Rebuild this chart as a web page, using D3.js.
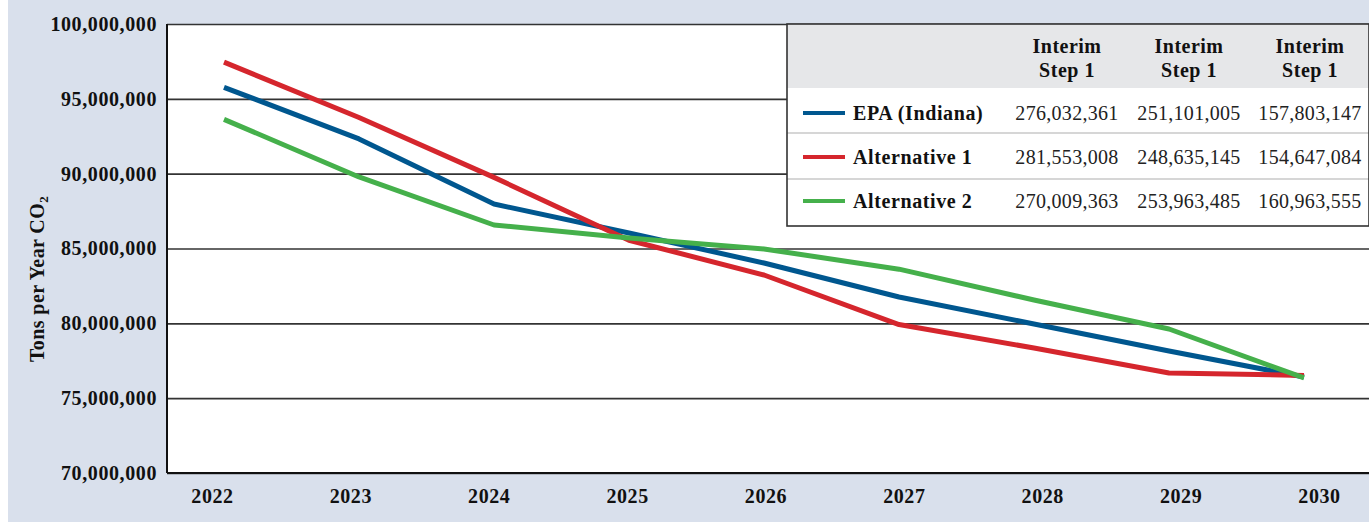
<!DOCTYPE html>
<html>
<head>
<meta charset="utf-8">
<script src="https://cdn.jsdelivr.net/npm/d3@7"></script>
<style>
  body { margin: 0; background: #fff; }
  svg { display: block; font-family: "Liberation Serif", "DejaVu Serif", serif; }
</style>
</head>
<body>
<div id="chart"></div>
<script>
// data
var years = ["2022", "2023", "2024", "2025", "2026", "2027", "2028", "2029", "2030"];
var epa  = [95.77, 92.32, 87.97, 86.04, 84.03, 81.76, 79.96, 78.15, 76.41];
var alt1 = [97.45, 93.75, 89.75, 85.55, 83.23, 79.92, 78.35, 76.68, 76.52];
var alt2 = [93.63, 89.78, 86.57, 85.70, 84.97, 83.62, 81.56, 79.62, 76.35];
var yTicks = [70, 75, 80, 85, 90, 95, 100];

var seriesNames = ["EPA (Indiana)", "Alternative 1", "Alternative 2"];
var seriesColors = ["#00578f", "#d5262d", "#45b04b"];
var tableHeaders = ["Interim Step 1", "Interim Step 1", "Interim Step 1"];
var tableEpa  = ["276,032,361", "251,101,005", "157,803,147"];
var tableAlt1 = ["281,553,008", "248,635,145", "154,647,084"];
var tableAlt2 = ["270,009,363", "253,963,485", "160,963,555"];

var series = [epa, alt1, alt2];
var tableRows = [tableEpa, tableAlt1, tableAlt2];

var W = 1369, H = 525;
var margin = { left: 167, right: 0, top: 24, bottom: 52 };
var width = W - margin.left - margin.right;
var height = H - margin.top - margin.bottom;

var svg = d3.select("#chart").append("svg")
    .attr("width", W)
    .attr("height", H);

// blue-grey backdrop
svg.append("rect")
    .attr("x", 8).attr("y", 0)
    .attr("width", W - 8).attr("height", 522)
    .attr("fill", "#d9e0ec");

var g = svg.append("g")
    .attr("transform", "translate(" + margin.left + "," + margin.top + ")");

g.append("rect")
    .attr("width", width).attr("height", height)
    .attr("fill", "#fff");

var y = d3.scaleLinear().domain([70, 100]).range([height, 0]);
// line points sit a bit inside the year labels, as in the original
var x = d3.scalePoint().domain(years).range([224 - margin.left, 1304 - margin.left]);
var xLab = d3.scalePoint().domain(years).range([212 - margin.left, 1319 - margin.left]);

// gridlines
var grid = g.append("g")
    .call(d3.axisLeft(y).tickValues(yTicks).tickSize(-width).tickFormat(""));
grid.select(".domain").remove();
grid.selectAll("line")
    .attr("stroke", "#333")
    .attr("stroke-width", 1.6);

// y labels
var yAxis = g.append("g")
    .call(d3.axisLeft(y).tickValues(yTicks).tickSize(0).tickPadding(10)
        .tickFormat(function(d) { return d3.format(",")(d * 1e6); }));
yAxis.select(".domain").remove();
yAxis.selectAll("text")
    .attr("font-family", "Liberation Serif")
    .attr("font-size", 20)
    .attr("font-weight", "bold")
    .attr("letter-spacing", 0.6)
    .attr("fill", "#111");

// x labels
var xAxis = g.append("g")
    .attr("transform", "translate(0," + height + ")")
    .call(d3.axisBottom(xLab).tickSize(0).tickPadding(16));
xAxis.select(".domain").remove();
xAxis.selectAll("text")
    .attr("font-family", "Liberation Serif")
    .attr("font-size", 20)
    .attr("font-weight", "bold")
    .attr("letter-spacing", 0.6)
    .attr("fill", "#111");

// frame: left and bottom
g.append("line").attr("x1", 0).attr("x2", 0).attr("y1", 0).attr("y2", height)
    .attr("stroke", "#111").attr("stroke-width", 2);
g.append("line").attr("x1", 0).attr("x2", width).attr("y1", height).attr("y2", height)
    .attr("stroke", "#111").attr("stroke-width", 2);

// y title
svg.append("text")
    .attr("transform", "translate(44,279) rotate(-90)")
    .attr("text-anchor", "middle")
    .attr("font-size", 20)
    .attr("font-weight", "bold")
    .attr("letter-spacing", 0.4)
    .attr("fill", "#111")
    .text("Tons per Year CO")
    .append("tspan")
    .attr("font-size", 13)
    .attr("dy", 4)
    .text("2");

// lines
var line = d3.line()
    .x(function(d, i) { return x(years[i]); })
    .y(function(d) { return y(d); });

g.selectAll(".series")
    .data(series)
    .enter().append("path")
    .attr("class", "series")
    .attr("fill", "none")
    .attr("stroke", function(d, i) { return seriesColors[i]; })
    .attr("stroke-width", 5)
    .attr("stroke-linejoin", "round")
    .attr("d", line);

// legend table
var tb = svg.append("g").attr("transform", "translate(787,24)");
var tbW = W - 787, tbH = 202;
tb.append("rect").attr("width", tbW).attr("height", tbH).attr("fill", "#fff");
tb.append("rect").attr("width", tbW).attr("height", 64).attr("fill", "#e6e7e9");

var colX = [280, 402, 523];
tableHeaders.forEach(function(h, i) {
    var words = h.split(" ");
    var t = tb.append("text")
        .attr("x", colX[i]).attr("y", 29)
        .attr("text-anchor", "middle")
        .attr("font-size", 20)
        .attr("font-weight", "bold")
        .attr("letter-spacing", 0.5)
        .attr("fill", "#111");
    t.append("tspan").attr("x", colX[i]).text(words[0]);
    t.append("tspan").attr("x", colX[i]).attr("dy", 24).text(words.slice(1).join(" "));
});

var rowY = [89, 133, 177];
[109, 155].forEach(function(ly) {
    tb.append("line").attr("x1", 0).attr("x2", tbW).attr("y1", ly).attr("y2", ly)
        .attr("stroke", "#c8c8c8").attr("stroke-width", 1.5);
});

seriesNames.forEach(function(name, i) {
    var cy = rowY[i];
    tb.append("line")
        .attr("x1", 16).attr("x2", 58).attr("y1", cy).attr("y2", cy)
        .attr("stroke", seriesColors[i]).attr("stroke-width", 4);
    tb.append("text")
        .attr("x", 66).attr("y", cy + 7)
        .attr("font-size", 20)
        .attr("font-weight", "bold")
        .attr("letter-spacing", 0.6)
        .attr("fill", "#111")
        .text(name);
    tableRows[i].forEach(function(v, j) {
        tb.append("text")
            .attr("x", colX[j]).attr("y", cy + 7)
            .attr("text-anchor", "middle")
            .attr("font-size", 20)
            .attr("letter-spacing", 0.3)
            .attr("fill", "#222")
            .text(v);
    });
});

tb.append("rect").attr("width", tbW).attr("height", tbH)
    .attr("fill", "none").attr("stroke", "#333").attr("stroke-width", 1.6);
</script>
</body>
</html>
